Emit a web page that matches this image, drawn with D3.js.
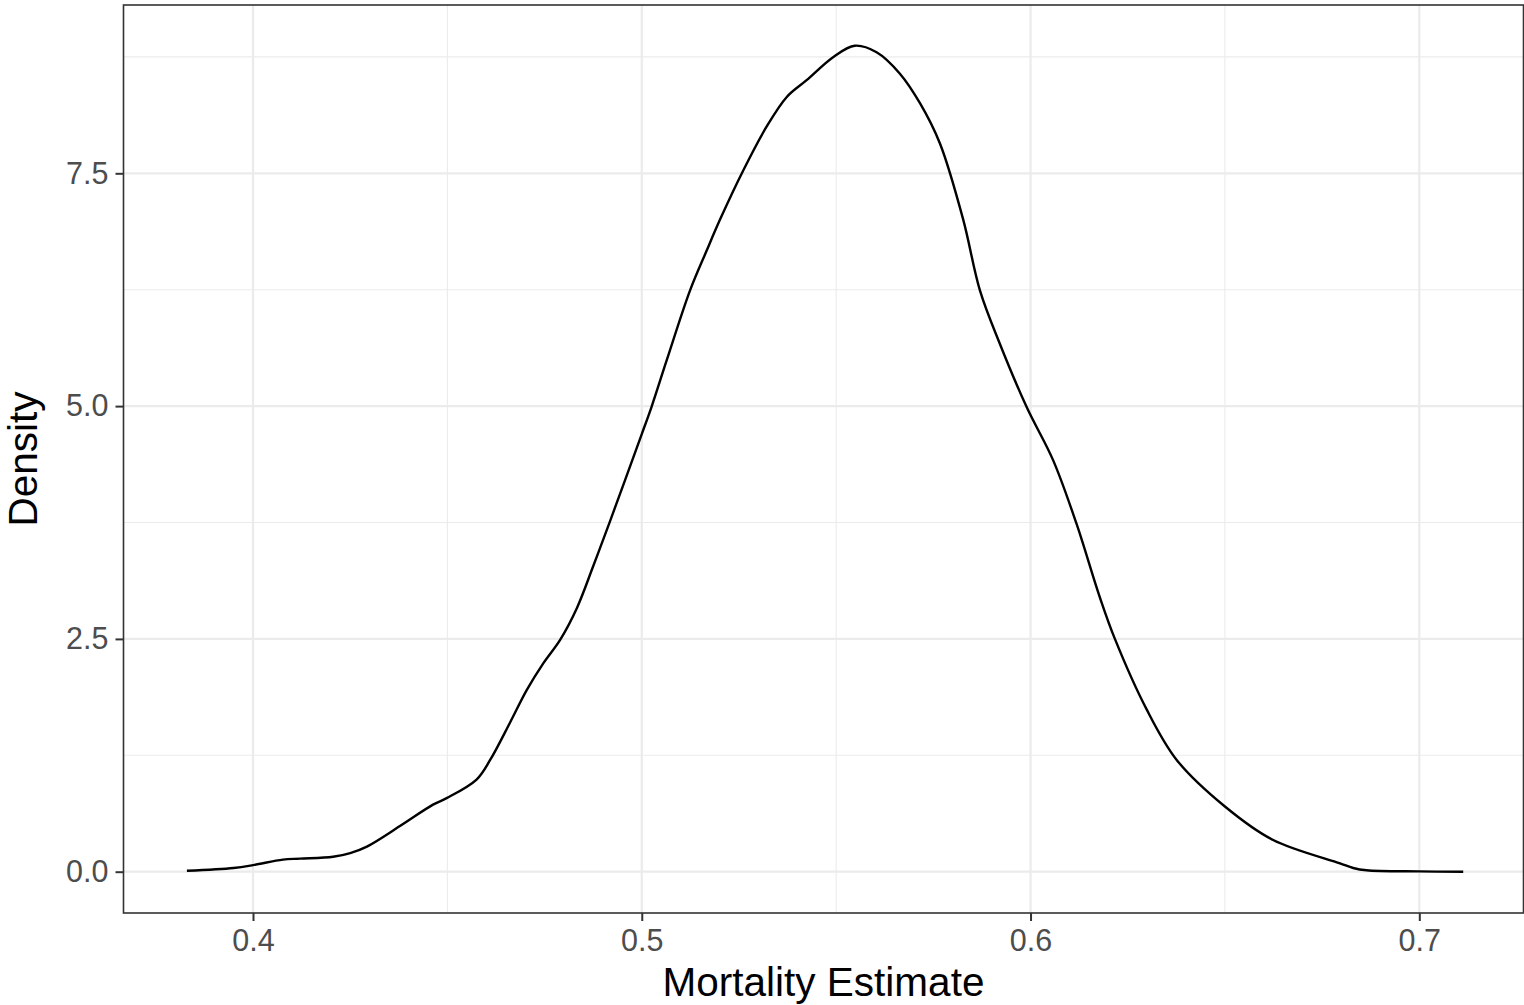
<!DOCTYPE html>
<html>
<head>
<meta charset="utf-8">
<script src="https://cdn.jsdelivr.net/npm/d3@7"></script>
<style>
  html, body { margin: 0; padding: 0; background: #ffffff; }
  svg { display: block; }
  text { font-family: "Liberation Sans", Arial, Helvetica, sans-serif; }
</style>
</head>
<body>
<svg id="chart" width="1524" height="1005"></svg>
<script>
// ---- data ----
const mortality = [0.383, 0.395, 0.400, 0.4077, 0.4121, 0.4206, 0.425, 0.4293, 0.4378, 0.4463,
  0.4498, 0.4575, 0.461, 0.4661, 0.4704, 0.4747, 0.479, 0.4833, 0.4875, 0.4918,
  0.5000, 0.5025, 0.5064, 0.5124, 0.5167, 0.5201, 0.5261, 0.5321, 0.5373, 0.5424,
  0.5493, 0.5548, 0.5604, 0.5664, 0.5716, 0.5767, 0.5827, 0.587, 0.5921, 0.599,
  0.6058, 0.6118, 0.6178, 0.6217, 0.6299, 0.6376, 0.650, 0.6624, 0.6796, 0.683,
  0.6864, 0.700, 0.7113];
const density = [0.01, 0.04, 0.07, 0.13, 0.14, 0.16, 0.20, 0.27, 0.49, 0.72,
  0.79, 0.99, 1.20, 1.60, 1.95, 2.24, 2.49, 2.83, 3.28, 3.76,
  4.70, 4.99, 5.49, 6.24, 6.67, 7.00, 7.53, 8.00, 8.32, 8.50,
  8.75, 8.87, 8.80, 8.57, 8.25, 7.82, 7.00, 6.24, 5.67, 4.99,
  4.42, 3.74, 2.95, 2.50, 1.74, 1.20, 0.70, 0.34, 0.09, 0.04,
  0.015, 0.003, 0.0];
const xTicks = [0.4, 0.5, 0.6, 0.7];
const xMinor = [0.45, 0.55, 0.65];
const yTicks = [0, 2.5, 5, 7.5];
const yMinor = [1.25, 3.75, 6.25, 8.75];
const xTitle = "Mortality Estimate";
const yTitle = "Density";

// ---- layout ----
const svg = d3.select("#chart");
const panel = { left: 123.5, right: 1523.5, top: 5, bottom: 913 };

const x = d3.scaleLinear().domain([0.4, 0.7]).range([253, 1419.3]);
const y = d3.scaleLinear().domain([0, 7.5]).range([871.7, 173.3]);

const g = svg.append("g");

// panel background
g.append("rect")
  .attr("x", panel.left).attr("y", panel.top)
  .attr("width", panel.right - panel.left).attr("height", panel.bottom - panel.top)
  .attr("fill", "#ffffff");

// minor grid
g.selectAll(".xminor").data(xMinor).enter().append("line")
  .attr("x1", d => x(d)).attr("x2", d => x(d))
  .attr("y1", panel.top).attr("y2", panel.bottom)
  .attr("stroke", "#EBEBEB").attr("stroke-width", 1.1);
g.selectAll(".yminor").data(yMinor).enter().append("line")
  .attr("y1", d => y(d)).attr("y2", d => y(d))
  .attr("x1", panel.left).attr("x2", panel.right)
  .attr("stroke", "#EBEBEB").attr("stroke-width", 1.1);

// major grid
g.selectAll(".xmajor").data(xTicks).enter().append("line")
  .attr("x1", d => x(d)).attr("x2", d => x(d))
  .attr("y1", panel.top).attr("y2", panel.bottom)
  .attr("stroke", "#EBEBEB").attr("stroke-width", 2.2);
g.selectAll(".ymajor").data(yTicks).enter().append("line")
  .attr("y1", d => y(d)).attr("y2", d => y(d))
  .attr("x1", panel.left).attr("x2", panel.right)
  .attr("stroke", "#EBEBEB").attr("stroke-width", 2.2);

// density line
const pts = mortality.map((m, i) => [m, density[i]]);
const line = d3.line()
  .x(d => x(d[0]))
  .y(d => y(Math.max(0, d[1])))
  .curve(d3.curveCatmullRom.alpha(0.5));
g.append("path")
  .datum(pts)
  .attr("d", line)
  .attr("fill", "none")
  .attr("stroke", "#000000")
  .attr("stroke-width", 2.4)
  .attr("stroke-linejoin", "round")
  .attr("stroke-linecap", "butt");

// panel border
g.append("rect")
  .attr("x", panel.left).attr("y", panel.top)
  .attr("width", panel.right - panel.left).attr("height", panel.bottom - panel.top)
  .attr("fill", "none")
  .attr("stroke", "#333333").attr("stroke-width", 1.6);

// x axis
const xAxis = d3.axisBottom(x).tickValues(xTicks).tickFormat(d3.format(".1f"))
  .tickSize(8).tickPadding(8);
const xg = svg.append("g").attr("transform", `translate(0,${panel.bottom})`).call(xAxis);
xg.select(".domain").remove();
xg.selectAll(".tick line").attr("stroke", "#333333").attr("stroke-width", 2);
xg.selectAll(".tick text").attr("fill", "#4D4D4D")
  .style("font-size", "30.5px")
  .style("font-family", "'Liberation Sans', Arial, Helvetica, sans-serif");

// y axis
const yAxis = d3.axisLeft(y).tickValues(yTicks).tickFormat(d3.format(".1f"))
  .tickSize(8).tickPadding(7);
const yg = svg.append("g").attr("transform", `translate(${panel.left},0)`).call(yAxis);
yg.select(".domain").remove();
yg.selectAll(".tick line").attr("stroke", "#333333").attr("stroke-width", 2);
yg.selectAll(".tick text").attr("fill", "#4D4D4D")
  .style("font-size", "30.5px")
  .style("font-family", "'Liberation Sans', Arial, Helvetica, sans-serif");

// titles
svg.append("text")
  .attr("x", (panel.left + panel.right) / 2)
  .attr("y", 995.7)
  .attr("text-anchor", "middle")
  .attr("fill", "#000000")
  .style("font-size", "40.5px")
  .text(xTitle);

svg.append("text")
  .attr("transform", `translate(37,${(panel.top + panel.bottom) / 2}) rotate(-90)`)
  .attr("text-anchor", "middle")
  .attr("fill", "#000000")
  .style("font-size", "40.5px")
  .text(yTitle);
</script>
</body>
</html>
